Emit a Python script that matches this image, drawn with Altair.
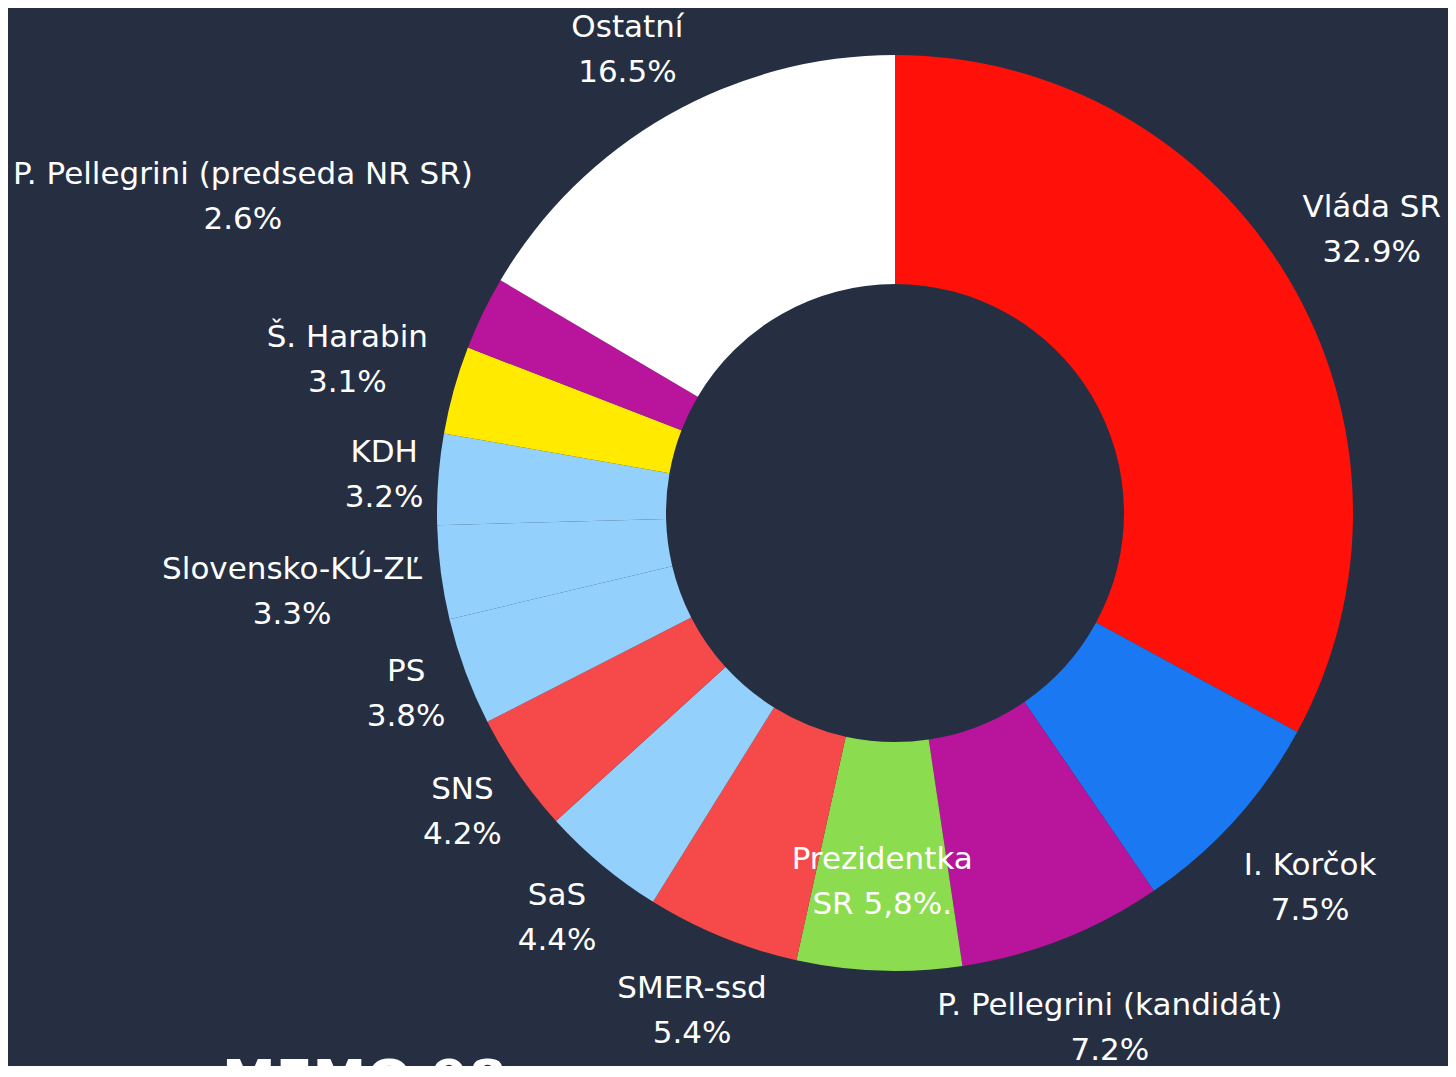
import altair as alt
import pandas as pd

# ---- data ----
names = ["Vláda SR", "I. Korčok", "P. Pellegrini (kandidát)", "Prezidentka SR",
         "SMER-ssd", "SaS", "SNS", "PS", "Slovensko-KÚ-ZĽ", "KDH", "Š. Harabin",
         "P. Pellegrini (predseda NR SR)", "Ostatní"]
values = [32.9, 7.5, 7.2, 5.8, 5.4, 4.4, 4.2, 3.8, 3.3, 3.2, 3.1, 2.6, 16.5]
label_top = ["Vláda SR", "I. Korčok", "P. Pellegrini (kandidát)", "Prezidentka",
             "SMER-ssd", "SaS", "SNS", "PS", "Slovensko-KÚ-ZĽ", "KDH", "Š. Harabin",
             "P. Pellegrini (predseda NR SR)", "Ostatní"]
label_bottom = ["32.9%", "7.5%", "7.2%", "SR 5,8%.", "5.4%", "4.4%", "4.2%", "3.8%",
                "3.3%", "3.2%", "3.1%", "2.6%", "16.5%"]
colors = ["#ff1008", "#1a78f2", "#b8149c", "#8cdc50", "#f64a4a", "#94d0fc", "#f64a4a",
          "#94d0fc", "#94d0fc", "#94d0fc", "#ffea00", "#b8149c", "#ffffff"]
inside_label = "Prezidentka SR"
logo_text = "MEMO 98"

BG = "#262f42"
FONT = "DejaVu Sans"
CX, CY = 887, 505          # pie centre (chart coordinates)
R_OUT, R_IN = 458, 229
W, H = 1440, 1058

df = pd.DataFrame({
    "idx": list(range(len(names))),
    "name": names,
    "value": values,
    "line1": label_top,
    "line2": label_bottom,
})

base = alt.Chart(df)

arcs = base.mark_arc(innerRadius=R_IN, outerRadius=R_OUT).encode(
    theta=alt.Theta("value:Q", stack=True),
    color=alt.Color("name:N", scale=alt.Scale(domain=names, range=colors), legend=None),
    order=alt.Order("idx:Q"),
    x=alt.value(CX),
    y=alt.value(CY),
)

# label geometry computed from the data (mid-angle of each slice)
lab = base.transform_window(
    cum="sum(value)", sort=[alt.SortField("idx")], frame=[None, 0]
).transform_joinaggregate(
    total="sum(value)"
).transform_calculate(
    a="2*PI*(datum.cum - datum.value/2)/datum.total",
    hw="max(length(datum.line1), length(datum.line2))*8.6",
    inside=f"datum.name == '{inside_label}'",
).transform_calculate(
    R="datum.inside ? 369 : 475 + datum.hw*abs(sin(datum.a)) + 40*abs(cos(datum.a))"
).transform_calculate(
    lx=f"{CX} + datum.R*sin(datum.a)",
    ly=f"clamp({CY} - datum.R*cos(datum.a), 42, 1020)",
)

def text_layer(field, dy):
    return lab.mark_text(
        font=FONT, fontSize=31, color="#ffffff", align="center", baseline="middle", dy=dy
    ).encode(
        x=alt.X("lx:Q", scale=None),
        y=alt.Y("ly:Q", scale=None),
        text=f"{field}:N",
    )

t1 = text_layer("line1", -22)
t2 = text_layer("line2", 23)

logo = alt.Chart(pd.DataFrame({"t": [logo_text]})).mark_text(
    font="DejaVu Sans", fontSize=54, fontWeight="bold", color="#ffffff",
    align="left", baseline="top"
).encode(x=alt.value(214), y=alt.value(1047), text="t:N")

chart = alt.layer(arcs, t1, t2, logo).properties(
    width=W, height=H, padding=0,
    autosize=alt.AutoSizeParams(type="none"),
    background=BG,
).configure_view(stroke=None)

chart.save("out.html", embed_options={"renderer": "svg", "actions": False})
